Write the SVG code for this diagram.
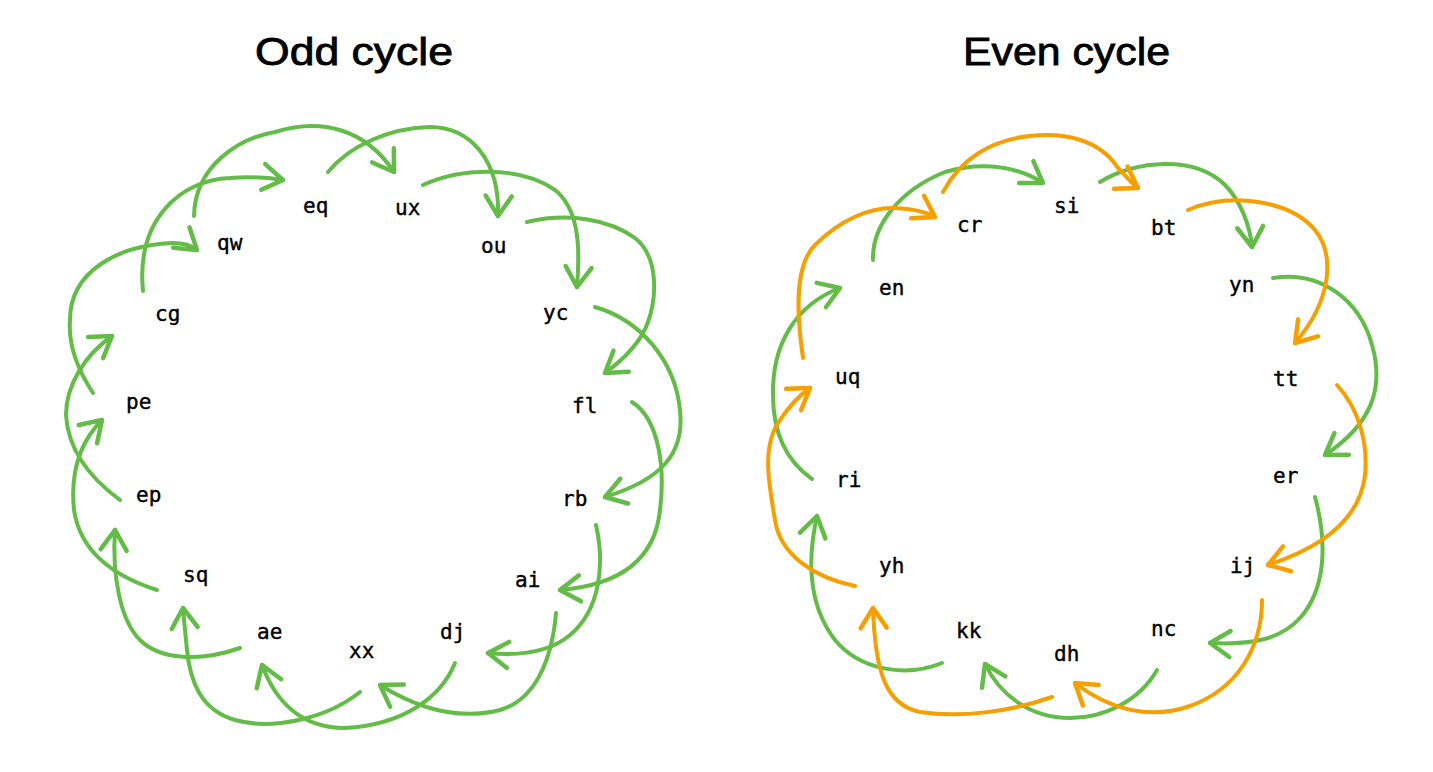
<svg xmlns="http://www.w3.org/2000/svg" width="1433" height="772" viewBox="0 0 1433 772">
<style>
.title{font-family:"Liberation Sans",Arial,sans-serif;font-size:38px;fill:#000;stroke:#000;stroke-width:0.8;}
.lbl{font-family:"DejaVu Sans Mono","Liberation Mono",monospace;font-size:21px;fill:#000;stroke:#000;stroke-width:0.4;}
.g{fill:none;stroke:#62bc47;stroke-width:4;stroke-linecap:round;stroke-linejoin:round;marker-end:url(#ag);}
.o{fill:none;stroke:#f59f00;stroke-width:4;stroke-linecap:round;stroke-linejoin:round;marker-end:url(#ao);}
</style>
<defs>
<marker id="ag" markerUnits="userSpaceOnUse" viewBox="-26 -18 32 36" refX="0" refY="0" markerWidth="32" markerHeight="36" orient="auto" overflow="visible">
<path d="M-20,-13 L0,0 L-20,13" fill="none" stroke="#62bc47" stroke-width="4.5" stroke-linecap="round" stroke-linejoin="round"/>
</marker>
<marker id="ao" markerUnits="userSpaceOnUse" viewBox="-26 -18 32 36" refX="0" refY="0" markerWidth="32" markerHeight="36" orient="auto" overflow="visible">
<path d="M-20,-13 L0,0 L-20,13" fill="none" stroke="#f59f00" stroke-width="4.5" stroke-linecap="round" stroke-linejoin="round"/>
</marker>
</defs>
<rect width="1433" height="772" fill="#fff"/>
<text id="title-odd" class="title" x="255" y="65" textLength="198" lengthAdjust="spacingAndGlyphs">Odd cycle</text>
<text id="title-even" class="title" x="963" y="65" textLength="207" lengthAdjust="spacingAndGlyphs">Even cycle</text>

<g id="connectors">
<!-- odd cycle -->
<path class="g" d="M194,216 C195,165 240,138 275,132 C320,118 365,128 394,172"/>
<path class="g" d="M143,291 C136,220 180,180 230,178 C255,176 270,178 283,180"/>
<path class="g" d="M328,172 C350,145 390,128 430,127 C470,127 500,160 498,216"/>
<path class="g" d="M423,185 C460,168 520,165 555,190 C580,210 580,250 577,287"/>
<path class="g" d="M527,222 C570,212 610,220 635,238 C660,258 656,300 648,322 C640,345 620,362 605,373"/>
<path class="g" d="M595,307 C640,320 675,360 680,410 C685,455 660,480 605,497"/>
<path class="g" d="M632,402 C660,420 665,470 660,510 C655,560 620,585 560,590"/>
<path class="g" d="M596,525 C605,565 600,610 570,635 C550,652 520,656 488,653"/>
<path class="g" d="M556,613 C552,660 535,700 500,710 C460,720 420,710 380,685"/>
<path class="g" d="M455,663 C440,700 400,725 345,728 C300,728 275,700 262,665"/>
<path class="g" d="M360,692 C325,720 270,730 235,720 C200,710 190,680 187,650 C185,630 184,620 183,608"/>
<path class="g" d="M240,648 C200,662 160,660 140,640 C120,620 112,575 115,530"/>
<path class="g" d="M157,590 C110,575 80,550 74,510 C70,470 82,440 102,420"/>
<path class="g" d="M120,500 C90,478 68,450 66,415 C66,385 85,355 112,336"/>
<path class="g" d="M93,393 C78,370 68,345 70,320 C70,270 120,245 173,243 C185,243 192,246 197,250"/>
<!-- even cycle green -->
<path class="g" d="M873,260 C872,225 900,190 945,172 C985,160 1020,168 1043,183"/>
<path class="g" d="M1100,182 C1135,160 1195,155 1225,185 C1240,200 1250,225 1252,247"/>
<path class="g" d="M1273,278 C1320,270 1360,300 1372,345 C1385,390 1370,425 1325,455"/>
<path class="g" d="M1315,497 C1328,545 1325,590 1300,618 C1280,640 1250,645 1210,643"/>
<path class="g" d="M1157,670 C1140,700 1105,718 1070,718 C1030,718 1000,695 985,664"/>
<path class="g" d="M942,663 C905,678 860,670 835,640 C812,610 805,570 817,516"/>
<path class="g" d="M812,479 C785,460 773,430 773,395 C772,345 795,305 840,288"/>
<!-- even cycle orange -->
<path class="o" d="M803,358 C796,310 795,265 815,245 C840,220 870,207 895,208 C915,209 928,213 935,217"/>
<path class="o" d="M943,192 C960,160 990,140 1030,136 C1065,132 1100,140 1118,168 C1128,178 1133,185 1138,188"/>
<path class="o" d="M1188,210 C1230,192 1290,200 1315,230 C1335,255 1332,300 1295,343"/>
<path class="o" d="M1337,385 C1360,410 1368,445 1365,475 C1360,520 1320,548 1268,565"/>
<path class="o" d="M1262,600 C1262,650 1235,690 1190,706 C1150,720 1110,710 1075,683"/>
<path class="o" d="M1052,697 C1010,712 960,718 920,712 C885,705 875,670 873,608"/>
<path class="o" d="M855,586 C815,578 780,555 775,520 C768,480 762,445 780,420 C790,405 800,395 810,388"/>
</g>

<!-- odd cycle nodes -->
<g id="n-eq"><text class="lbl" x="303" y="213">eq</text></g>
<g id="n-ux"><text class="lbl" x="395" y="215">ux</text></g>
<g id="n-ou"><text class="lbl" x="481" y="253">ou</text></g>
<g id="n-yc"><text class="lbl" x="543" y="320">yc</text></g>
<g id="n-fl"><text class="lbl" x="572" y="413">fl</text></g>
<g id="n-rb"><text class="lbl" x="562" y="506">rb</text></g>
<g id="n-ai"><text class="lbl" x="515" y="587">ai</text></g>
<g id="n-dj"><text class="lbl" x="440" y="639">dj</text></g>
<g id="n-xx"><text class="lbl" x="349" y="658">xx</text></g>
<g id="n-ae"><text class="lbl" x="257" y="639">ae</text></g>
<g id="n-sq"><text class="lbl" x="183" y="582">sq</text></g>
<g id="n-ep"><text class="lbl" x="136" y="502">ep</text></g>
<g id="n-pe"><text class="lbl" x="126" y="409">pe</text></g>
<g id="n-cg"><text class="lbl" x="155" y="321">cg</text></g>
<g id="n-qw"><text class="lbl" x="217" y="250">qw</text></g>

<!-- even cycle nodes -->
<g id="n-cr"><text class="lbl" x="957" y="232">cr</text></g>
<g id="n-si"><text class="lbl" x="1054" y="213">si</text></g>
<g id="n-bt"><text class="lbl" x="1151" y="235">bt</text></g>
<g id="n-yn"><text class="lbl" x="1229" y="292">yn</text></g>
<g id="n-tt"><text class="lbl" x="1273" y="386">tt</text></g>
<g id="n-er"><text class="lbl" x="1273" y="483">er</text></g>
<g id="n-ij"><text class="lbl" x="1230" y="573">ij</text></g>
<g id="n-nc"><text class="lbl" x="1151" y="636">nc</text></g>
<g id="n-dh"><text class="lbl" x="1054" y="661">dh</text></g>
<g id="n-kk"><text class="lbl" x="956" y="638">kk</text></g>
<g id="n-yh"><text class="lbl" x="879" y="573">yh</text></g>
<g id="n-ri"><text class="lbl" x="836" y="487">ri</text></g>
<g id="n-uq"><text class="lbl" x="835" y="384">uq</text></g>
<g id="n-en"><text class="lbl" x="879" y="295">en</text></g>
</svg>
